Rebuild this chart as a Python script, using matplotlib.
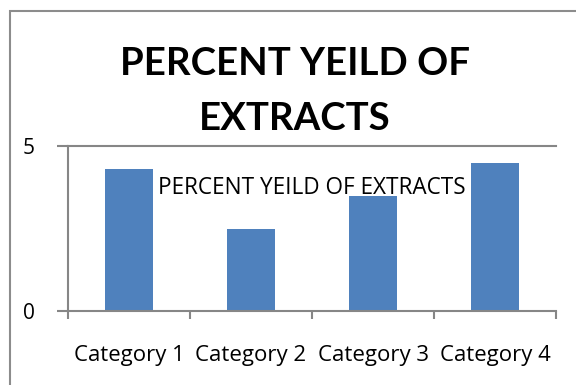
import matplotlib
matplotlib.use("Agg")
import matplotlib.pyplot as plt
from matplotlib.patches import Rectangle
from matplotlib import transforms

categories = ["Category 1", "Category 2", "Category 3", "Category 4"]
values = [4.3, 2.5, 3.5, 4.5]
title_lines = ["PERCENT YEILD OF", "EXTRACTS"]
series_name = "PERCENT YEILD OF EXTRACTS"

W, H = 576, 385
FONT = "Open Sans"
TFONT = "Lato"
fig = plt.figure(figsize=(W / 100, H / 100), dpi=100)
fig.patch.set_facecolor("white")
renderer = fig.canvas.get_renderer()


def fit(t, target_w):
    bb = t.get_window_extent(renderer)
    t.set_fontsize(t.get_fontsize() * target_w / bb.width)


# outer chart border
fig.patches.append(Rectangle((10 / W, -0.05), 1.2, (H - 11) / H + 0.05,
                             transform=fig.transFigure, fill=False,
                             edgecolor="#8c8c8c", linewidth=1.5))

ax = fig.add_axes([68 / W, (H - 311) / H, (556 - 68) / W, (311 - 146) / H])
gray = "#868686"
x = list(range(len(categories)))
ax.bar(x, values, width=0.4, color="#4F81BD", zorder=2)
ax.set_xlim(-0.5, len(categories) - 0.5)
ax.set_ylim(0, 5)
ax.set_yticks([0, 5])
ax.set_yticklabels(["0", "5"])
ax.axhline(5, color=gray, linewidth=1.5, zorder=1, clip_on=False)

for s in ["top", "right"]:
    ax.spines[s].set_visible(False)
for s in ["left", "bottom"]:
    ax.spines[s].set_color(gray)
    ax.spines[s].set_linewidth(1.5)

ax.set_xticks([i - 0.5 for i in range(len(categories) + 1)])
ax.set_xticklabels([])
ax.tick_params(axis="x", which="major", length=6, width=1.5, color=gray, direction="out")
ax.tick_params(axis="y", length=8, width=1.5, color=gray, labelsize=15, pad=16)
for lab in ax.get_yticklabels():
    lab.set_fontfamily(FONT)

# category labels
tr = transforms.blended_transform_factory(ax.transData, fig.transFigure)
for i, c in enumerate(categories):
    t = ax.text(i, 1 - 361 / H, c, transform=tr, ha="center",
                va="baseline", fontfamily=FONT, fontsize=15)
    fit(t, 111)

# title lines
tsize = None
for line, base in zip(title_lines, [75, 130]):
    t = fig.text(295 / W, 1 - base / H, line, ha="center", va="baseline",
                 fontfamily=TFONT, fontweight="bold", fontsize=28)
    if tsize is None:
        fit(t, 350)
        tsize = t.get_fontsize()
    else:
        t.set_fontsize(tsize)

t = fig.text(158 / W, 1 - 194 / H, series_name, ha="left", va="baseline",
             fontfamily=FONT, fontsize=15)
fit(t, 307)

fig.savefig("out.png", dpi=100, facecolor="white")
